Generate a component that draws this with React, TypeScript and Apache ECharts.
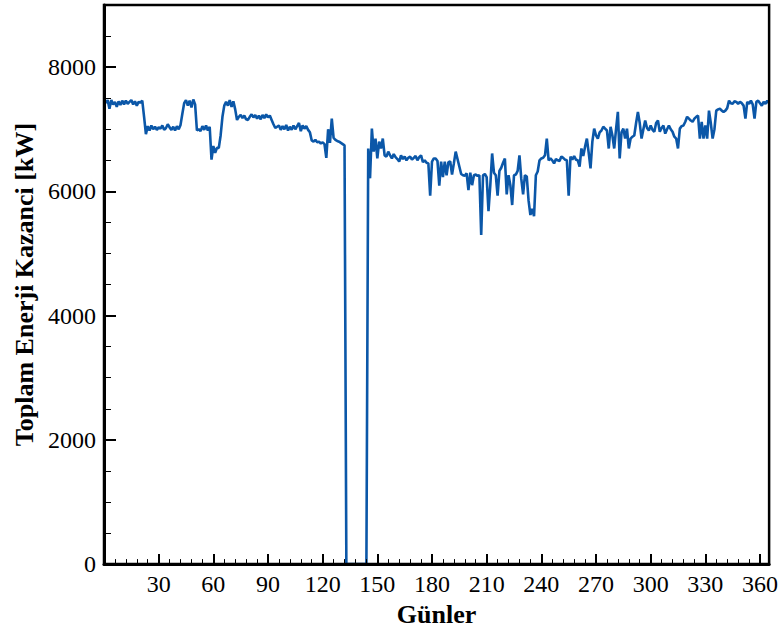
import React, { useEffect, useRef } from "react";
import * as echarts from "echarts";

// Daily total energy gain (kW), days 1..365
const days1to90 = [
  7420, 7470, 7330, 7470, 7400, 7440, 7360, 7450, 7390, 7460,
  7400, 7460, 7410, 7440, 7470, 7400, 7450, 7380, 7440, 7430,
  7460, 7200, 6920, 7050, 6980, 7060, 7000, 7040, 6990, 7030,
  7010, 7060, 6990, 7020, 7080, 7030, 6990, 7040, 6980, 7050,
  7000, 7070, 7250, 7420, 7470, 7380, 7460, 7350, 7480, 7400,
  6980, 7000, 6970, 7050, 6990, 7060, 6980, 7040, 6510, 6730,
  6620, 6700, 6700, 6900, 7200, 7380, 7440, 7380, 7470, 7360,
  7450, 7320, 7150, 7200, 7230, 7180, 7220, 7160, 7150, 7200,
  7240, 7190, 7230, 7170, 7220, 7160, 7230, 7180, 7240, 7190,
];
const days91to180 = [
  7220, 7150, 7080, 7020, 7040, 7060, 6990, 7050, 7000, 7070,
  6980, 7040, 6990, 7060, 7000, 7050, 7100, 6970, 7060, 7010,
  7050, 6990, 6950, 6820, 6800, 6830, 6790, 6800, 6770, 6790,
  6760, 6540, 7000, 6780, 7170, 6860, 6830, 6810, 6800, 6780,
  6760, 6740, 0, 0, 0, 0, 0, 0, 0, 0,
  0, 0, 0, 0, 6690, 6210, 7010, 6640, 6850, 6530,
  6800, 6690, 6850, 6580, 6560, 6640, 6580, 6530, 6600, 6550,
  6520, 6480, 6580, 6520, 6560, 6500, 6540, 6560, 6510, 6540,
  6570, 6500, 6550, 6580, 6470, 6500, 6460, 6450, 5930, 6480,
];
const days181to270 = [
  6530, 6530, 6490, 6090, 6480, 6230, 6480, 6260, 6470, 6480,
  6270, 6450, 6640, 6520, 6400, 6280, 6260, 6250, 6290, 6020,
  6300, 6100, 6260, 6270, 6250, 6260, 5300, 6260, 6280, 6230,
  5680, 6100, 6610, 6300, 6260, 5930, 6330, 6380, 6460, 6530,
  5950, 6260, 6100, 5780, 6260, 6270, 6330, 6580, 6200, 5950,
  6260, 6240, 5850, 5620, 5720, 5600, 6260, 6320, 6500, 6530,
  6540, 6580, 6850, 6500, 6530, 6500, 6450, 6520, 6500, 6490,
  6560, 6540, 6510, 6500, 5930, 6560, 6510, 6570, 6510, 6500,
  6400, 6690, 6570, 6720, 6850, 6620, 6370, 6800, 7010, 6900,
];
const days271to365 = [
  6850, 6950, 6980, 7040, 7010, 6980, 6690, 7040, 6900, 6690,
  7000, 7280, 6530, 6950, 7010, 6850, 7010, 6690, 6850, 6880,
  6900, 7100, 7280, 7100, 6850, 7000, 7140, 7020, 6980, 7060,
  6990, 6960, 7100, 7140, 6960, 7020, 7060, 6930, 7000, 7060,
  7000, 6960, 6880, 6850, 6690, 7010, 7050, 7060, 7120, 7200,
  7170, 7140, 7120, 7170, 7200, 7220, 6850, 7120, 6850, 7060,
  6850, 7300, 7100, 6850, 7000, 7300, 7320, 7330, 7300, 7280,
  7300, 7340, 7460, 7420, 7410, 7450, 7440, 7410, 7440, 7420,
  7380, 7170, 7440, 7410, 7460, 7400, 7170, 7440, 7460, 7420,
  7380, 7440, 7410, 7460, 7420,
];

const energy = [...days1to90, ...days91to180, ...days181to270, ...days271to365];
const dayNumbers = energy.map((_, i) => i + 1);

const xTickLabels = [30, 60, 90, 120, 150, 180, 210, 240, 270, 300, 330, 360];
const yTickLabels = [0, 2000, 4000, 6000, 8000];

const FONT = "'Liberation Serif', 'Times New Roman', serif";

export default function App() {
  const ref = useRef<HTMLDivElement>(null);

  useEffect(() => {
    if (!ref.current) return;
    const chart = echarts.init(ref.current, null, { renderer: "svg" });
    const seriesData = dayNumbers.map((d, i) => [d, energy[i]]);

    chart.setOption({
      animation: false,
      backgroundColor: "#ffffff",
      grid: {
        left: 104,
        right: 8,
        top: 5,
        bottom: 63,
        show: true,
        borderColor: "#000",
        borderWidth: 2.5,
        backgroundColor: "transparent",
        z: 5,
      },
      xAxis: [
        {
          type: "value",
          min: 0,
          max: 365,
          interval: 30,
          position: "bottom",
          z: 5,
          axisLine: { show: true, onZero: false, lineStyle: { color: "#000", width: 3 } },
          axisTick: { show: true, inside: true, length: 10, interval: 0, lineStyle: { color: "#000", width: 2 } },
          axisLabel: {
            interval: 0,
            formatter: (v: number) => (xTickLabels.includes(v) ? String(v) : ""),
            fontFamily: FONT,
            fontSize: 24,
            color: "#000",
            margin: 8,
          },
          splitLine: { show: false },
          name: "Günler",
          nameLocation: "middle",
          nameGap: 32,
          nameTextStyle: { fontFamily: FONT, fontWeight: "bold", fontSize: 26, color: "#000" },
        },
        {
          type: "value",
          min: 0,
          max: 365,
          interval: 6,
          position: "bottom",
          z: 5,
          axisLine: { show: false, onZero: false },
          axisTick: { show: true, inside: true, length: 5, interval: 0, lineStyle: { color: "#000", width: 1 } },
          axisLabel: { show: false },
          splitLine: { show: false },
        },
      ],
      yAxis: [
        {
          type: "value",
          min: 0,
          max: 9000,
          interval: 2000,
          position: "left",
          z: 5,
          axisLine: { show: true, onZero: false, lineStyle: { color: "#000", width: 3 } },
          axisTick: { show: true, inside: true, length: 12, interval: 0, lineStyle: { color: "#000", width: 2 } },
          axisLabel: {
            interval: 0,
            formatter: (v: number) => (yTickLabels.includes(v) ? String(v) : ""),
            fontFamily: FONT,
            fontSize: 24,
            color: "#000",
            margin: 8,
          },
          splitLine: { show: false },
          name: "Toplam Enerji Kazanci [kW]",
          nameLocation: "middle",
          nameGap: 64,
          nameTextStyle: { fontFamily: FONT, fontWeight: "bold", fontSize: 26, color: "#000" },
        },
        {
          type: "value",
          min: 0,
          max: 9000,
          interval: 500,
          position: "left",
          z: 5,
          axisLine: { show: false, onZero: false },
          axisTick: { show: true, inside: true, length: 7, interval: 0, lineStyle: { color: "#000", width: 1 } },
          axisLabel: { show: false },
          splitLine: { show: false },
        },
      ],
      series: [
        {
          type: "line",
          xAxisIndex: 0,
          yAxisIndex: 0,
          z: 1,
          data: seriesData,
          showSymbol: false,
          symbol: "none",
          lineStyle: { color: "#0b57a8", width: 2.6 },
          itemStyle: { color: "#0b57a8" },
          clip: true,
        },
      ],
    });

    return () => chart.dispose();
  }, []);

  return (
    <div
      ref={ref}
      style={{ position: "fixed", left: 0, top: 0, width: 781, height: 632, background: "#fff" }}
    />
  );
}
